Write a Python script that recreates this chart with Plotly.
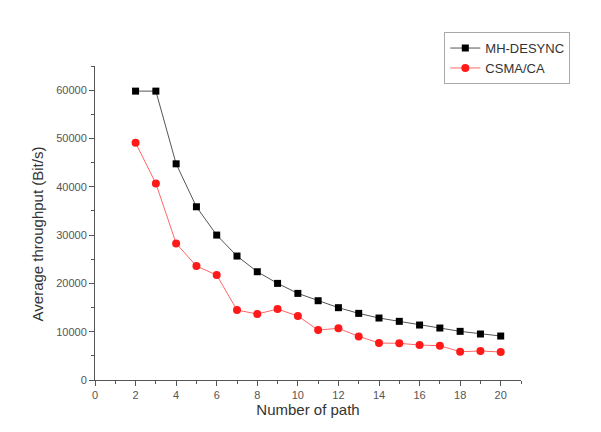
import plotly.graph_objects as go

paths = list(range(2, 21))
mh_desync = [59800, 59800, 44750, 35860, 30000, 25660, 22410, 20000, 17930, 16410,
             14970, 13790, 12830, 12140, 11380, 10760, 10070, 9520, 9100]
csma_ca = [49100, 40690, 28280, 23590, 21720, 14480, 13660, 14690, 13240, 10350,
           10690, 9030, 7660, 7590, 7240, 7100, 5860, 6000, 5800]
x_ticks = list(range(0, 21, 2))
y_ticks = list(range(0, 60001, 10000))

FONT = "Liberation Sans, Arial"

fig = go.Figure()
fig.add_trace(go.Scatter(x=paths, y=mh_desync, name="MH-DESYNC", mode="lines+markers",
                         line=dict(color="#555555", width=1),
                         marker=dict(symbol="square", size=7, color="black")))
fig.add_trace(go.Scatter(x=paths, y=csma_ca, name="CSMA/CA", mode="lines+markers",
                         line=dict(color="#ff6666", width=1),
                         marker=dict(symbol="circle", size=8, color="#ff1a1a")))

axis_common = dict(showgrid=False, zeroline=False, showline=True, linecolor="#555555",
                   linewidth=1, ticks="outside", ticklen=5, tickcolor="#555555",
                   tickfont=dict(family=FONT, size=11, color="#555555"))
fig.update_xaxes(range=[0, 21], tickvals=x_ticks, ticktext=[str(v) for v in x_ticks],
                 minor=dict(ticks="outside", ticklen=3, dtick=1, tickcolor="#555555"),
                 title=dict(text="Number of path", standoff=3,
                            font=dict(family=FONT, size=15, color="#333333")),
                 **axis_common)
fig.update_yaxes(range=[0, 65000], tickvals=y_ticks, ticktext=[str(v) for v in y_ticks],
                 minor=dict(ticks="outside", ticklen=3, dtick=5000, tickcolor="#555555"),
                 **axis_common)
fig.add_annotation(text="Average throughput (Bit/s)", xref="paper", yref="paper",
                   x=-0.134, y=0.4666, xanchor="center", yanchor="middle",
                   textangle=-90, showarrow=False,
                   font=dict(family=FONT, size=15, color="#333333"))
fig.update_layout(width=601, height=432, margin=dict(l=95, r=80, t=66, b=52),
                  paper_bgcolor="white", plot_bgcolor="white",
                  legend=dict(x=0.82, y=1.108, xanchor="left", yanchor="top",
                              bordercolor="#aaaaaa", borderwidth=1, bgcolor="white",
                              font=dict(family=FONT, size=13, color="#333333"),
                              tracegroupgap=0, itemwidth=30))
fig.write_html("out.html")
